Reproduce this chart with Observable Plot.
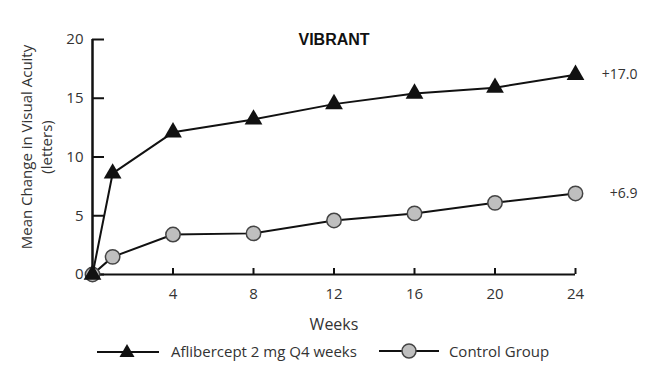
<!DOCTYPE html>
<html><head><meta charset="utf-8">
<script src="https://cdn.jsdelivr.net/npm/d3@7"></script>
<script src="https://cdn.jsdelivr.net/npm/@observablehq/plot@0.6"></script>
<style>
body{margin:0;background:#fff;font-family:"Open Sans",sans-serif;}
#legend{display:flex;align-items:center;height:26px;color:#333;font-size:15px;font-family:"Open Sans",sans-serif;}
#legend svg{display:block;}
</style></head><body><div id="chart"></div><div id="legend"></div><script>
const weeks = [0, 1, 4, 8, 12, 16, 20, 24];
const aflibercept = [0, 8.6, 12.1, 13.2, 14.5, 15.4, 15.9, 17.0];
const control = [0, 1.5, 3.4, 3.5, 4.6, 5.2, 6.1, 6.9];
const seriesNames = ["Aflibercept 2 mg Q4 weeks", "Control Group"];
const endLabels = ["+17.0", "+6.9"];
const xTicks = [4, 8, 12, 16, 20, 24];
const yTicks = [0, 5, 10, 15, 20];
const title = "VIBRANT";
const xLabel = "Weeks";
const yLabel = "Mean Change in Visual Acuity\n(letters)";

const afl = weeks.map((w, i) => ({week: w, value: aflibercept[i]}));
const ctl = weeks.map((w, i) => ({week: w, value: control[i]}));
const ends = [
  {week: weeks[weeks.length - 1], value: aflibercept[aflibercept.length - 1], label: endLabels[0]},
  {week: weeks[weeks.length - 1], value: control[control.length - 1], label: endLabels[1]}
];

const chart = Plot.plot({
  width: 652, height: 338,
  marginLeft: 92, marginRight: 77, marginTop: 39, marginBottom: 64,
  x: {domain: [0, 24]},
  y: {domain: [0, 20]},
  style: {fontFamily: "Open Sans", fontSize: "15px", color: "#333", background: "#fff", overflow: "visible"},
  marks: [
    Plot.ruleY([0], {stroke: "#111", strokeWidth: 2}),
    Plot.ruleX([0], {stroke: "#111", strokeWidth: 2.5}),
    Plot.axisX({ticks: xTicks, tickSize: -6, tickPadding: 20, label: null, stroke: "#111", strokeWidth: 2, fontSize: 15}),
    Plot.axisY({ticks: yTicks, tickSize: -12, tickPadding: 21, label: null, stroke: "#111", strokeWidth: 2, fontSize: 15}),
    Plot.text([xLabel], {frameAnchor: "bottom", dy: 50, lineAnchor: "middle", fontSize: 16, fill: "#333"}),
    Plot.text([yLabel], {frameAnchor: "left", rotate: -90, dx: -57, dy: -10, textAnchor: "middle", lineAnchor: "middle", lineHeight: 1.36, fontSize: 15, fill: "#333"}),
    Plot.line(ctl, {x: "week", y: "value", stroke: "#111", strokeWidth: 2}),
    Plot.dot(ctl, {x: "week", y: "value", r: 7.2, fill: "#bfbfbf", stroke: "#444", strokeWidth: 1.5}),
    Plot.line(afl, {x: "week", y: "value", stroke: "#111", strokeWidth: 2}),
    Plot.dot(afl, {x: "week", y: "value", symbol: "triangle", r: 6.6, fill: "#111", stroke: "none"}),
    Plot.text(ends, {x: "week", y: "value", text: "label", textAnchor: "end", dx: 62, fontSize: 14, fill: "#333"}),
    Plot.text([title], {frameAnchor: "top", lineAnchor: "middle", fontWeight: "bold", fontFamily: "Liberation Sans", fontSize: 16, fill: "#111"})
  ]
});
document.getElementById("chart").appendChild(chart);

const legend = document.getElementById("legend");
legend.innerHTML = `
  <svg width="62" height="20" style="margin-left:97px"><line x1="0" y1="11" x2="62" y2="11" stroke="#111" stroke-width="2"/><path d="M30,3 L37.5,16 L22.5,16 Z" fill="#111"/></svg>
  <span style="margin-left:12px">${seriesNames[0]}</span>
  <svg width="60" height="20" style="margin-left:22px"><line x1="0" y1="10" x2="60" y2="10" stroke="#111" stroke-width="2"/><circle cx="30" cy="10" r="7" fill="#bfbfbf" stroke="#444" stroke-width="1.5"/></svg>
  <span style="margin-left:10px">${seriesNames[1]}</span>`;
</script></body></html>
